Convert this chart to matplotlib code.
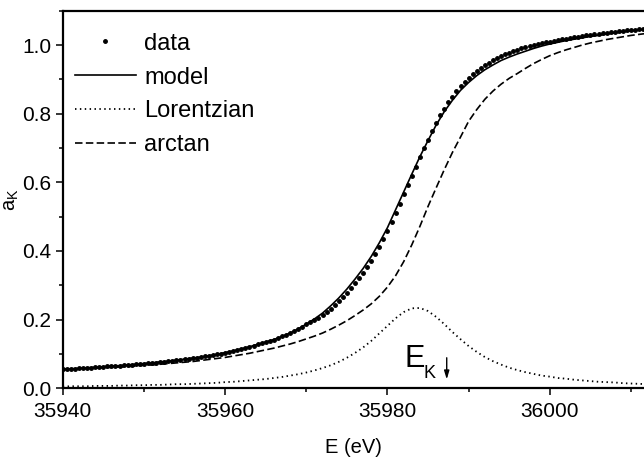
import numpy as np
import matplotlib
matplotlib.use("Agg")
import matplotlib.pyplot as plt
from matplotlib.ticker import MultipleLocator

plt.rcParams['font.family'] = ['Liberation Sans', 'DejaVu Sans']
plt.rcParams['mathtext.fontset'] = 'custom'
plt.rcParams['mathtext.rm'] = 'Liberation Sans'
plt.rcParams['mathtext.default'] = 'regular'

# measured absorption, 0.5 eV steps from 35940 eV
data_start = 35940.0
data_step = 0.5
data_ak = [
    0.055, 0.056, 0.057, 0.057, 0.058, 0.059, 0.060, 0.060, 0.061, 0.062,
    0.063, 0.064, 0.065, 0.065, 0.066, 0.067, 0.068, 0.069, 0.070, 0.071,
    0.072, 0.073, 0.074, 0.075, 0.077, 0.078, 0.079, 0.081, 0.082, 0.083,
    0.085, 0.086, 0.088, 0.089, 0.091, 0.093, 0.095, 0.097, 0.099, 0.101,
    0.104, 0.106, 0.109, 0.112, 0.115, 0.118, 0.121, 0.124, 0.128, 0.131,
    0.135, 0.138, 0.142, 0.146, 0.151, 0.156, 0.161, 0.167, 0.173, 0.179,
    0.186, 0.192, 0.199, 0.206, 0.213, 0.222, 0.232, 0.242, 0.253, 0.265,
    0.278, 0.292, 0.306, 0.321, 0.337, 0.354, 0.372, 0.392, 0.413, 0.435,
    0.458, 0.484, 0.511, 0.538, 0.565, 0.592, 0.619, 0.646, 0.673, 0.699,
    0.724, 0.749, 0.773, 0.795, 0.815, 0.833, 0.850, 0.866, 0.880, 0.892,
    0.904, 0.915, 0.925, 0.934, 0.942, 0.949, 0.956, 0.963, 0.969, 0.974,
    0.978, 0.982, 0.986, 0.990, 0.993, 0.996, 0.999, 1.002, 1.005, 1.008,
    1.010, 1.012, 1.014, 1.017, 1.019, 1.021, 1.022, 1.024, 1.026, 1.028,
    1.030, 1.032, 1.033, 1.035, 1.036, 1.038, 1.039, 1.040, 1.041, 1.043,
    1.044, 1.045, 1.046, 1.048, 1.049,
]

# fitted curves, 1 eV steps from 35940 eV
curve_start = 35940.0
model_ak = [
    0.055, 0.057, 0.058, 0.060, 0.061, 0.063, 0.065, 0.066, 0.068, 0.070,
    0.072, 0.074, 0.077, 0.079, 0.082, 0.085, 0.088, 0.091, 0.095, 0.099,
    0.104, 0.109, 0.115, 0.121, 0.128, 0.135, 0.142, 0.151, 0.161, 0.173,
    0.187, 0.202, 0.219, 0.240, 0.263, 0.289, 0.318, 0.349, 0.384, 0.424,
    0.468, 0.520, 0.572, 0.624, 0.675, 0.722, 0.767, 0.806, 0.839, 0.868,
    0.891, 0.911, 0.928, 0.942, 0.955, 0.965, 0.974, 0.982, 0.990, 0.997,
    1.003, 1.008, 1.013, 1.017, 1.021, 1.025, 1.028, 1.032, 1.035, 1.038,
    1.041, 1.044, 1.047,
]
lorentz_ak = [
    0.005, 0.006, 0.006, 0.006, 0.007, 0.007, 0.007, 0.008, 0.008, 0.009,
    0.009, 0.010, 0.010, 0.011, 0.012, 0.012, 0.013, 0.014, 0.015, 0.016,
    0.018, 0.019, 0.021, 0.023, 0.025, 0.027, 0.030, 0.033, 0.037, 0.041,
    0.046, 0.052, 0.059, 0.067, 0.077, 0.089, 0.103, 0.119, 0.138, 0.160,
    0.182, 0.204, 0.222, 0.233, 0.234, 0.225, 0.208, 0.187, 0.164, 0.143,
    0.123, 0.106, 0.091, 0.079, 0.069, 0.060, 0.053, 0.047, 0.042, 0.037,
    0.034, 0.030, 0.028, 0.025, 0.023, 0.021, 0.019, 0.018, 0.017, 0.015,
    0.014, 0.013, 0.012,
]
arctan_ak = [
    0.055, 0.056, 0.057, 0.058, 0.059, 0.060, 0.061, 0.062, 0.063, 0.065,
    0.067, 0.068, 0.070, 0.072, 0.074, 0.076, 0.078, 0.081, 0.084, 0.087,
    0.090, 0.094, 0.098, 0.102, 0.107, 0.112, 0.117, 0.123, 0.129, 0.136,
    0.144, 0.152, 0.161, 0.172, 0.184, 0.197, 0.212, 0.228, 0.246, 0.268,
    0.295, 0.328, 0.369, 0.418, 0.472, 0.530, 0.584, 0.637, 0.687, 0.732,
    0.778, 0.812, 0.842, 0.866, 0.886, 0.903, 0.917, 0.932, 0.946, 0.958,
    0.969, 0.978, 0.986, 0.993, 1.000, 1.006, 1.011, 1.016, 1.020, 1.024,
    1.028, 1.031, 1.034,
]
e_k = 35987.3

x_ticks = [35940, 35960, 35980, 36000]
y_ticks = [0.0, 0.2, 0.4, 0.6, 0.8, 1.0]

data_e = data_start + data_step * np.arange(len(data_ak))
curve_e = curve_start + np.arange(len(model_ak))

fig = plt.figure(figsize=(6.44, 4.57), dpi=100)
ax = fig.add_axes([0.0974, 0.1503, 0.9026, 0.8263])

ax.plot(data_e, data_ak, 'o', color='black', markersize=2.5, label='data')
ax.plot(curve_e, model_ak, '-', color='black', lw=1.2, label='model')
ax.plot(curve_e, lorentz_ak, color='black', lw=1.3,
        linestyle=(0, (0.8, 1.9)), label='Lorentzian')
ax.plot(curve_e, arctan_ak, color='black', lw=1.2,
        linestyle=(0, (4.5, 2.0)), label='arctan')

# edge position marker
ax.text(35982.1, 0.061, 'E', fontsize=22, ha='left', va='baseline')
ax.text(35984.5, 0.030, 'K', fontsize=13, ha='left', va='baseline')
ax.annotate('', xy=(e_k, 0.026), xytext=(e_k, 0.089),
            arrowprops=dict(arrowstyle='-|>,head_length=0.5,head_width=0.15',
                            color='black', lw=1.0, shrinkA=0, shrinkB=0))

ax.set_xlim(35940, 36011.6)
ax.set_ylim(0, 1.10)
ax.set_xticks(x_ticks)
ax.set_yticks(y_ticks)
ax.set_yticklabels(['%.1f' % v for v in y_ticks])
ax.xaxis.set_minor_locator(MultipleLocator(10))
ax.yaxis.set_minor_locator(MultipleLocator(0.1))

ax.tick_params(which='major', direction='out', length=5, width=1.1,
               labelsize=15, pad=3)
ax.tick_params(axis='x', which='major', pad=5)
ax.tick_params(which='minor', direction='out', length=3, width=1.1)
ax.tick_params(top=False, right=False, which='both')

for side in ['left', 'bottom', 'top']:
    ax.spines[side].set_linewidth(1.6)
ax.spines['right'].set_visible(False)

ax.set_xlabel('E (eV)', fontsize=14.5, labelpad=12)
ax.set_ylabel('a$_K$', fontsize=14.5, labelpad=1)

ax.legend(loc='upper left', bbox_to_anchor=(12 / 581, 1 - 22 / 377.6),
          frameon=False, fontsize=17, handlelength=2.6, handletextpad=0.35,
          labelspacing=0.5, borderpad=0, borderaxespad=0, numpoints=1)

fig.savefig('out.png', dpi=100)
